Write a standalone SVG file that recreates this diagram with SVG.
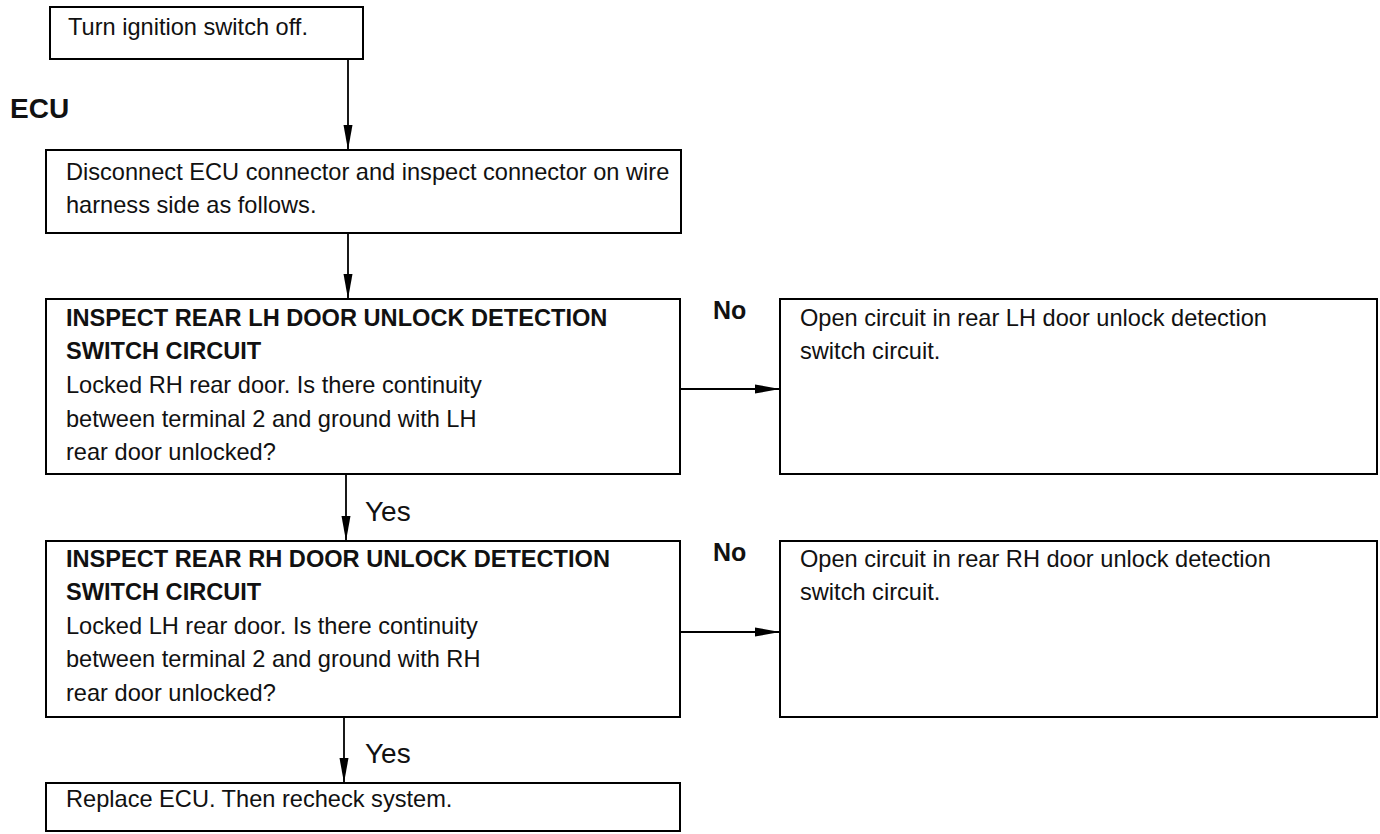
<svg xmlns="http://www.w3.org/2000/svg" width="1380" height="834" viewBox="0 0 1380 834">
<style>
.box{fill:#fff;stroke:#000;stroke-width:2}
.t{font-family:"Liberation Sans",Arial,sans-serif;font-size:23.6px;fill:#111}
.b{font-weight:bold}
.lbl{font-family:"Liberation Sans",Arial,sans-serif;fill:#111}
.c{stroke:#000;stroke-width:1.8;fill:none}
</style>
<defs>
<marker id="ah" markerUnits="userSpaceOnUse" markerWidth="26" markerHeight="10" refX="25" refY="5" orient="auto">
<path d="M0,0.5 L25,5 L0,9.5 Z" fill="#000"/>
</marker>
</defs>
<rect width="1380" height="834" fill="#fff"/>
<text class="lbl b" x="10" y="118" font-size="28">ECU</text>
<g id="n1"><rect class="box" x="50" y="7" width="313" height="52"/><text class="t" x="68" y="35">Turn ignition switch off.</text></g>
<g id="n2"><rect class="box" x="46" y="150" width="635" height="83"/><text class="t" x="66" y="180">Disconnect ECU connector and inspect connector on wire</text><text class="t" x="66" y="213">harness side as follows.</text></g>
<g id="n3"><rect class="box" x="46" y="299" width="634" height="175"/>
<text class="t b" x="66" y="326">INSPECT REAR LH DOOR UNLOCK DETECTION</text>
<text class="t b" x="66" y="359">SWITCH CIRCUIT</text>
<text class="t" x="66" y="393">Locked RH rear door. Is there continuity</text>
<text class="t" x="66" y="427">between terminal 2 and ground with LH</text>
<text class="t" x="66" y="460">rear door unlocked?</text></g>
<g id="n4"><rect class="box" x="780" y="299" width="597" height="175"/>
<text class="t" x="800" y="326">Open circuit in rear LH door unlock detection</text>
<text class="t" x="800" y="359">switch circuit.</text></g>
<g id="n5"><rect class="box" x="46" y="541" width="634" height="176"/>
<text class="t b" x="66" y="567">INSPECT REAR RH DOOR UNLOCK DETECTION</text>
<text class="t b" x="66" y="600">SWITCH CIRCUIT</text>
<text class="t" x="66" y="634">Locked LH rear door. Is there continuity</text>
<text class="t" x="66" y="667">between terminal 2 and ground with RH</text>
<text class="t" x="66" y="701">rear door unlocked?</text></g>
<g id="n6"><rect class="box" x="780" y="541" width="597" height="176"/>
<text class="t" x="800" y="567">Open circuit in rear RH door unlock detection</text>
<text class="t" x="800" y="600">switch circuit.</text></g>
<g id="n7"><rect class="box" x="46" y="783" width="634" height="48"/>
<text class="t" x="66" y="807">Replace ECU. Then recheck system.</text></g>
<g id="connectors">
<line class="c" x1="348" y1="59" x2="348" y2="150" marker-end="url(#ah)"/>
<line class="c" x1="348" y1="233" x2="348" y2="299" marker-end="url(#ah)"/>
<line class="c" x1="346" y1="474" x2="346" y2="541" marker-end="url(#ah)"/>
<line class="c" x1="344" y1="717" x2="344" y2="783" marker-end="url(#ah)"/>
<line class="c" x1="680" y1="389" x2="780" y2="389" marker-end="url(#ah)"/>
<line class="c" x1="680" y1="632" x2="780" y2="632" marker-end="url(#ah)"/>
<text class="lbl b" x="713" y="319" font-size="25">No</text>
<text class="lbl b" x="713" y="561" font-size="25">No</text>
<text class="lbl" x="365" y="521" font-size="28">Yes</text>
<text class="lbl" x="365" y="763" font-size="28">Yes</text>
</g>
</svg>
